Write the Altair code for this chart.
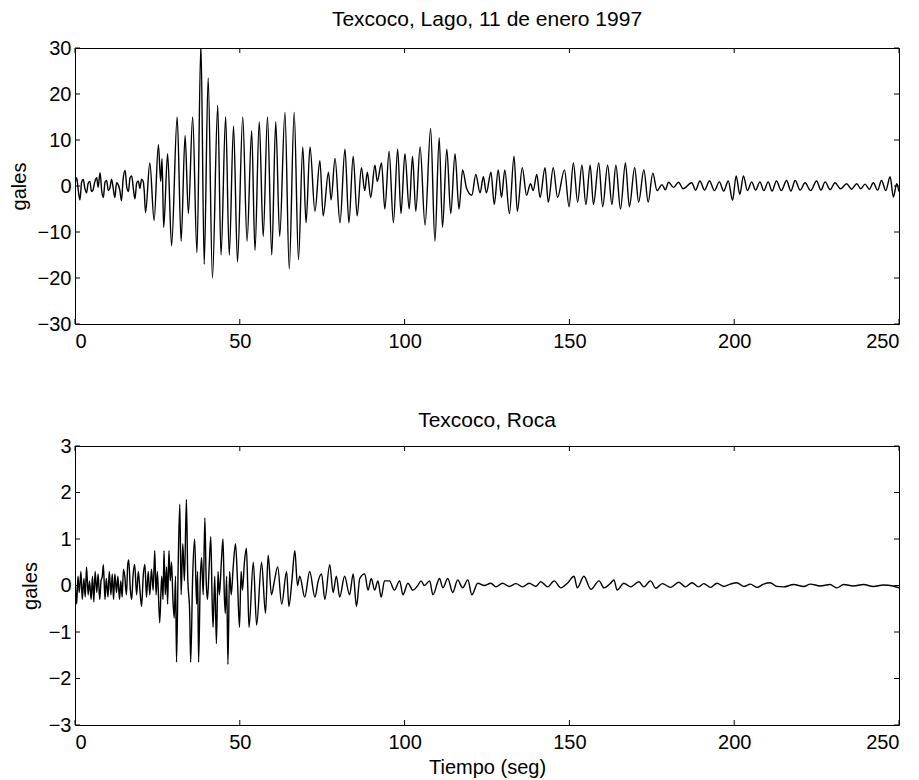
import altair as alt
import pandas as pd

# ------------------------------------------------------------------
# Data (time in s, acceleration in gales)
# ------------------------------------------------------------------
lago_noise = [
    (0.0, 0.5), (0.5, 1.8), (1.0, -1.0), (1.5, -3.0), (2.0, 0.8), (2.5, 1.4),
    (3.0, -0.5), (3.5, -1.5), (4.0, 0.6), (4.5, 1.0), (5.0, -1.2), (5.5, -0.8),
    (6.0, 0.9), (6.6, 1.8), (7.0, -0.3), (7.6, 2.9), (8.1, -1.0), (8.6, -2.5),
    (9.1, 0.8), (9.6, 1.2), (10.1, -1.0), (10.6, -0.4), (11.1, 1.5), (11.6, -0.5),
    (12.1, -2.5), (12.6, 0.7), (13.1, 0.3), (13.6, -0.9), (14.1, -3.2), (14.6, 1.5),
    (15.2, 3.4), (15.7, -0.2), (16.2, -1.2), (16.7, 1.8), (17.2, 2.2), (17.7, -0.6),
    (18.2, -2.8), (18.7, 0.6), (19.2, 1.1), (19.7, -0.5), (20.2, 1.5), (20.7, 1.0),
    (21.0, -1.0), (21.4, -5.8),
]
lago_strong = [
    (22.7, 5.0), (24.0, -7.5), (25.3, 9.0), (26.0, 1.0), (26.4, 6.0), (26.9, -9.0),
    (28.1, 7.0), (29.3, -13.0), (31.0, 15.0), (32.2, -12.0), (33.4, 11.0), (34.4, -6.0),
    (35.7, 15.0), (37.0, -14.5), (38.2, 31.0), (39.2, -17.0), (40.4, 23.5), (41.7, -20.0),
    (43.3, 17.5), (44.3, -15.0), (45.7, 15.0), (46.8, -15.0), (48.1, 13.0), (49.3, -16.5),
    (50.9, 15.0), (52.2, -12.0), (53.6, 12.0), (54.6, -14.0), (55.9, 14.0), (57.1, -11.0),
    (58.4, 15.0), (59.7, -15.0),
]
lago_mid = [
    (60.9, 14.0), (62.1, -11.0), (63.7, 16.0), (65.0, -18.0), (66.5, 16.0), (67.8, -16.0),
    (69.1, 8.5), (70.1, -8.0), (71.3, 8.5), (72.8, -5.5), (74.3, 5.5), (75.3, -6.5),
    (76.9, 3.0), (77.7, -3.0), (78.9, 6.0), (80.4, -8.0), (81.9, 8.0), (83.1, -8.0),
    (84.4, 6.5), (85.6, -6.5), (86.9, 4.0), (87.9, -1.0), (88.7, 3.0), (89.7, -2.5),
    (91.0, 4.5), (91.7, 1.0), (93.0, 5.0), (94.0, -5.0), (95.3, 7.5), (96.6, -8.0),
    (97.9, 8.0), (98.9, -6.0), (100.1, 7.0), (101.4, -5.0), (102.4, 6.5), (103.4, -5.5),
    (104.7, 8.5), (106.2, -8.5), (107.9, 12.5), (109.2, -12.0), (110.5, 10.5), (111.5, -9.0),
    (112.8, 8.0), (114.0, -6.0), (115.3, 7.0), (116.5, -5.0), (117.6, 3.5), (118.8, -0.5),
]
lago_late = [
    (120.4, -2.0), (121.6, 2.5), (122.9, -1.5), (123.9, 2.0), (124.8, -1.5), (126.2, 3.0),
    (127.2, -4.0), (128.4, 3.5), (129.4, -2.5), (130.4, 3.5), (131.8, -6.0), (133.2, 6.5),
    (134.2, -5.5), (135.7, 4.0), (137.0, -2.0), (138.2, 0.5), (139.0, -1.0), (140.1, 2.5),
    (141.1, -2.5), (142.6, 4.0), (143.6, -3.5), (145.1, 4.0), (146.4, -2.5), (148.5, 3.5),
    (149.9, -4.5), (151.2, 5.0), (152.5, -3.5), (153.8, 4.5), (155.0, -4.0), (156.3, 4.5),
    (157.3, -4.0), (158.9, 5.0), (160.1, -4.5), (161.6, 4.5), (162.9, -4.0), (164.1, 4.5),
    (165.5, -5.0), (167.0, 5.0), (168.2, -4.5), (169.8, 4.0), (171.0, -3.5), (172.6, 3.5),
    (173.9, -3.5), (175.3, 2.8), (176.6, -1.0), (178.1, 0.3), (179.1, -0.8), (180.1, 0.8),
    (181.6, -0.3), (183.1, 0.8), (184.5, -0.6),
]
lago_tail = [
    (187.1, 0.7), (188.3, -0.9), (189.6, 1.1), (191.0, -0.9), (192.5, 1.1), (194.0, -1.0),
    (195.5, 0.9), (196.8, -1.1), (198.2, 1.1), (199.5, -3.1), (200.6, 2.2), (201.7, -1.8),
    (202.8, 2.2), (204.0, -1.0), (205.3, 0.9), (206.5, -0.9), (207.8, 0.9), (209.0, -1.0),
    (210.3, 0.9), (211.5, -1.1), (212.8, 1.1), (214.3, -1.0), (215.9, 1.2), (217.2, -1.1),
    (218.5, 1.2), (220.0, -0.9), (221.5, 0.7), (223.2, -1.0), (225.0, 1.1), (226.3, -0.9),
    (227.6, 0.9), (229.1, -0.8), (230.6, 0.7), (232.3, -0.6), (234.1, 0.5), (235.6, -0.7),
    (237.2, 0.5), (238.4, -0.6), (239.7, 0.4), (241.0, -0.7), (242.2, 0.7), (243.5, -0.9),
    (244.7, 1.2), (246.0, -1.0), (247.3, 2.0), (248.3, -2.4), (249.3, 0.5), (250.0, -1.2),
]

roca_noise = [
    (0.0, 0.25), (0.5, -0.4), (0.9, 0.2), (1.3, -0.15), (1.8, 0.3), (2.2, -0.3),
    (2.7, 0.15), (3.1, -0.25), (3.5, 0.4), (4.0, -0.2), (4.4, 0.1), (4.9, -0.3),
    (5.3, 0.2), (5.7, -0.35), (6.1, 0.3), (6.6, -0.15), (7.0, 0.25), (7.5, -0.3),
    (7.9, 0.1), (8.3, 0.2), (8.6, 0.45), (9.1, -0.3), (9.5, 0.15), (10.0, -0.25),
    (10.4, 0.3), (10.9, -0.2), (11.3, 0.25), (11.7, -0.3), (12.1, 0.25), (12.6, -0.15),
    (13.0, 0.2), (13.5, -0.3), (13.9, 0.1), (14.3, -0.25), (14.7, 0.35), (15.1, 0.2),
    (15.6, -0.2), (16.0, 0.45), (16.3, 0.55), (16.8, -0.1), (17.2, -0.3), (17.6, 0.2),
    (18.1, 0.45), (18.7, -0.2), (19.2, 0.3), (19.7, -0.1), (20.2, -0.45), (20.7, 0.2),
    (21.2, 0.45), (21.7, -0.25), (22.2, 0.3), (22.7, -0.2), (23.2, 0.35), (23.7, -0.1),
]
roca_strong = [
    (24.2, 0.75), (24.6, -0.2), (25.0, 0.3), (25.7, -0.8), (26.3, 0.2), (26.7, -0.3),
    (27.0, 0.75), (27.4, -0.2), (27.8, 0.4), (28.1, -0.4), (28.5, 0.75), (28.9, 0.1),
    (29.3, 0.5), (29.7, -0.3), (30.1, -0.7), (30.5, 0.2), (30.8, -1.65), (31.3, 0.4),
    (31.8, 1.75), (32.2, -0.2), (32.7, 0.9), (33.2, 0.1), (33.8, 1.85), (34.2, 0.2),
    (34.8, -0.6), (35.1, -1.65), (35.7, 0.2), (36.3, 1.0), (36.9, -0.4), (37.2, 0.3),
    (37.5, -1.65), (38.0, 0.1), (38.4, 0.6), (38.9, -0.2), (39.4, 1.45), (39.8, 0.1),
    (40.2, -0.3), (40.7, 0.4), (41.2, 1.05), (41.6, -0.3), (41.9, -0.9), (42.4, 0.2),
    (42.9, -1.25), (43.4, 0.3), (43.8, -0.2), (44.4, 0.5), (44.9, 1.0), (45.3, -0.2),
    (45.6, -0.6), (46.0, 0.2), (46.4, -1.7), (46.9, 0.3), (47.4, -0.2), (48.0, 0.4),
    (48.7, 0.9), (49.3, 0.1), (49.9, -0.9), (50.4, 0.3), (50.8, -0.1), (51.4, 0.5),
    (52.0, 0.8), (52.4, 0.0), (52.8, -0.9),
]
roca_coda = [
    (54.1, 0.5), (55.1, -0.85), (56.6, 0.5), (57.8, -0.6), (58.6, 0.65), (59.6, -0.2),
    (60.5, 0.1), (61.5, 0.4), (62.7, -0.4), (64.2, 0.3), (64.9, -0.45), (65.8, 0.1),
    (66.7, 0.75), (67.5, 0.0), (68.2, 0.2), (69.7, -0.25), (71.2, 0.3), (72.8, -0.25),
    (73.8, 0.1), (74.8, 0.25), (75.8, -0.3), (77.3, 0.45), (78.3, -0.15), (79.3, 0.2),
    (80.3, -0.25), (81.8, 0.2), (83.3, -0.2), (84.4, 0.25), (85.4, -0.45), (86.4, 0.15),
    (87.9, 0.25), (88.9, -0.1), (89.9, 0.15), (90.9, -0.1), (91.9, 0.1), (92.9, -0.25),
    (93.9, 0.1), (95.4, 0.1), (96.9, -0.1), (98.5, 0.1), (99.5, -0.2), (101.0, 0.05),
    (102.5, -0.1), (104.0, 0.0), (105.0, 0.1), (106.0, 0.0), (107.6, 0.1), (108.6, -0.2),
    (110.6, 0.15), (111.6, -0.05), (113.1, 0.15), (114.6, -0.15), (116.1, 0.12), (117.6, -0.05),
    (119.2, 0.12), (120.4, -0.2), (122.2, 0.05),
]
roca_tail = [
    (124.2, 0.0), (126.2, 0.05), (127.7, -0.03), (129.7, 0.05), (131.7, -0.02), (133.8, 0.04),
    (135.8, -0.03), (137.8, 0.05), (139.8, -0.02), (141.3, 0.08), (143.4, -0.03), (145.4, 0.1),
    (147.4, -0.05), (149.4, 0.05), (151.4, 0.2), (152.4, -0.05), (154.4, 0.2), (156.5, -0.08),
    (159.0, 0.1), (160.5, -0.05), (162.5, 0.05), (163.5, 0.12), (164.5, -0.1), (166.5, 0.05),
    (168.6, -0.03), (171.1, 0.08), (172.6, -0.03), (174.6, 0.1), (176.2, -0.06), (178.2, 0.04),
    (180.7, -0.04), (183.2, 0.07), (185.2, -0.03), (187.2, 0.06), (189.2, -0.03), (190.8, 0.04),
    (192.8, -0.04), (194.8, 0.05), (196.8, -0.02), (198.8, 0.03), (200.8, 0.06), (202.9, -0.02),
    (204.9, 0.03), (206.9, -0.04), (208.9, 0.03), (210.9, 0.06), (212.9, -0.02), (215.0, -0.03),
    (218.0, 0.02), (221.1, -0.02), (223.1, 0.03), (226.1, -0.01), (229.1, 0.02), (231.1, -0.05),
    (233.2, 0.02), (236.2, -0.01), (239.2, 0.02), (242.2, -0.02), (245.2, 0.01), (248.2, -0.01),
    (250.0, -0.05),
]

x_ticks = [0, 50, 100, 150, 200, 250]
lago_ticks = [-30, -20, -10, 0, 10, 20, 30]
roca_ticks = [-3, -2, -1, 0, 1, 2, 3]
lago_title = "Texcoco, Lago, 11 de enero 1997"
roca_title = "Texcoco, Roca"
x_title = "Tiempo (seg)"
y_title = "gales"

# ------------------------------------------------------------------
W = 824
FONT = "Liberation Sans"
FS = 20
TFS = 21
TICK = 5


def panel(points, yticks, title, xtitle, title_offset, h):
    df = pd.DataFrame(points, columns=["t", "v"])
    xs = alt.Scale(domain=[0, 250], nice=False, zero=False)
    ys = alt.Scale(domain=[yticks[0], yticks[-1]], nice=False, zero=False)
    if xtitle:
        xaxis = alt.Axis(values=x_ticks, title=xtitle, labelPadding=7, titlePadding=5)
    else:
        xaxis = alt.Axis(values=x_ticks, title=None, labelPadding=7)
    yaxis = alt.Axis(values=yticks, title=y_title, labelPadding=4, titlePadding=8)
    line = alt.Chart(df).mark_line(
        color="black", strokeWidth=1.4, clip=True, interpolate="monotone"
    ).encode(
        x=alt.X("t:Q", scale=xs, axis=xaxis),
        y=alt.Y("v:Q", scale=ys, axis=yaxis),
    )
    # inward tick marks on all four sides of the frame
    xt = pd.DataFrame({"t": x_ticks})
    yt = pd.DataFrame({"v": yticks})
    bot = alt.Chart(xt).mark_rule(color="black", strokeWidth=1).encode(
        x=alt.X("t:Q", scale=xs, axis=xaxis), y=alt.value(h), y2=alt.value(h - TICK))
    top = alt.Chart(xt).mark_rule(color="black", strokeWidth=1).encode(
        x=alt.X("t:Q", scale=xs, axis=xaxis), y=alt.value(0), y2=alt.value(TICK))
    left = alt.Chart(yt).mark_rule(color="black", strokeWidth=1).encode(
        y=alt.Y("v:Q", scale=ys, axis=yaxis), x=alt.value(0), x2=alt.value(TICK))
    right = alt.Chart(yt).mark_rule(color="black", strokeWidth=1).encode(
        y=alt.Y("v:Q", scale=ys, axis=yaxis), x=alt.value(W), x2=alt.value(W - TICK))
    return alt.layer(line, bot, top, left, right).properties(
        width=W, height=h,
        title=alt.TitleParams(title, offset=title_offset),
    )


p1 = panel(lago_noise + lago_strong + lago_mid + lago_late + lago_tail,
           lago_ticks, lago_title, None, 8, 276)
p2 = panel(roca_noise + roca_strong + roca_coda + roca_tail,
           roca_ticks, roca_title, x_title, 5, 279)

chart = alt.vconcat(p1, p2, spacing=57).configure_view(
    stroke="black", strokeWidth=1
).configure_axis(
    grid=False, domain=False, ticks=False,
    labelFont=FONT, labelFontSize=FS, labelColor="black",
    titleFont=FONT, titleFontSize=FS, titleFontWeight="normal", titleColor="black",
).configure_title(
    font=FONT, fontSize=TFS, fontWeight="normal", color="black", anchor="middle"
).properties(
    padding={"left": 0, "top": 0, "right": 0, "bottom": 0},
    background="white",
)

chart.save("out.html", embed_options={"renderer": "svg", "actions": False})
